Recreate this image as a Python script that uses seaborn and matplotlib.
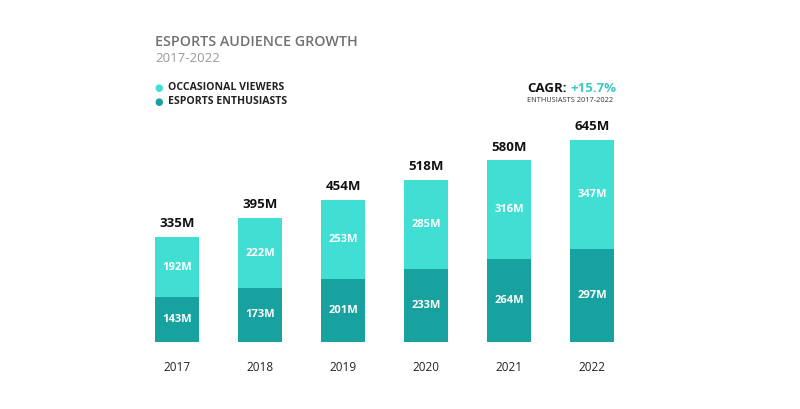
import pandas as pd
import numpy as np
import matplotlib.pyplot as plt
import seaborn as sns

# --- data ---
years = ['2017', '2018', '2019', '2020', '2021', '2022']
enthusiasts = [143, 173, 201, 233, 264, 297]
occasional = [192, 222, 253, 285, 316, 347]
totals = [335, 395, 454, 518, 580, 645]

light = '#41DED4'
dark = '#18A29F'

sns.set_theme(style='white')
plt.rcParams['font.family'] = ['Open Sans', 'DejaVu Sans']

df = pd.DataFrame({'Year': years, 'Enthusiasts': enthusiasts,
                   'Occasional': occasional, 'Total': totals})

fig = plt.figure(figsize=(8, 4.09), dpi=100)
ax = fig.add_axes([135.5 / 800, 67 / 409, 498 / 800, 242 / 409])

# stacked bars: totals in light colour, enthusiasts drawn over them in dark
sns.barplot(data=df, x='Year', y='Total', color=light, width=0.53,
            saturation=1, linewidth=0, ax=ax)
sns.barplot(data=df, x='Year', y='Enthusiasts', color=dark, width=0.53,
            saturation=1, linewidth=0, ax=ax)

ax.set_xlim(-0.5, 5.5)
ax.set_ylim(0, 773)
for i, (e, o, t) in enumerate(zip(enthusiasts, occasional, totals)):
    ax.text(i, e / 2, f'{e}M', ha='center', va='center', color='white',
            fontsize=8, fontweight='bold')
    ax.text(i, e + o / 2, f'{o}M', ha='center', va='center', color='white',
            fontsize=8, fontweight='bold')
    ax.text(i, t + 22, f'{t}M', ha='center', va='bottom', color='#111111',
            fontsize=9.5, fontweight='bold')

ax.set_xlabel('')
ax.set_ylabel('')
ax.set_yticks([])
ax.tick_params(axis='x', length=0, pad=14, labelsize=8.5, colors='#222222')
sns.despine(ax=ax, left=True, bottom=True)

# title block
fig.text(155 / 800, 1 - 42 / 409, 'ESPORTS AUDIENCE GROWTH', fontsize=10.3,
         fontweight='semibold', color='#707070', va='center')
fig.text(155 / 800, 1 - 59 / 409, '2017-2022', fontsize=9.5,
         color='#9a9a9a', va='center')

# legend
for yy, lab, c in [(88, 'OCCASIONAL VIEWERS', light), (102, 'ESPORTS ENTHUSIASTS', dark)]:
    fig.text(159 / 800, 1 - yy / 409, '\u25CF', fontsize=7, color=c,
             ha='center', va='center', family='DejaVu Sans')
    fig.text(168 / 800, 1 - yy / 409, lab, fontsize=7.6, fontweight='bold',
             color='#222222', va='center')

# CAGR note
fig.text(567 / 800, 1 - 89 / 409, 'CAGR:', fontsize=9.5, fontweight='bold',
         color='#111111', ha='right', va='center')
fig.text(570 / 800, 1 - 89 / 409, '+15.7%', fontsize=9.5, fontweight='bold',
         color='#3ec9c0', ha='left', va='center')
fig.text(613 / 800, 1 - 101 / 409, 'ENTHUSIASTS 2017-2022', fontsize=5.3,
         color='#333333', ha='right', va='center')

fig.savefig('out.png', dpi=100)
